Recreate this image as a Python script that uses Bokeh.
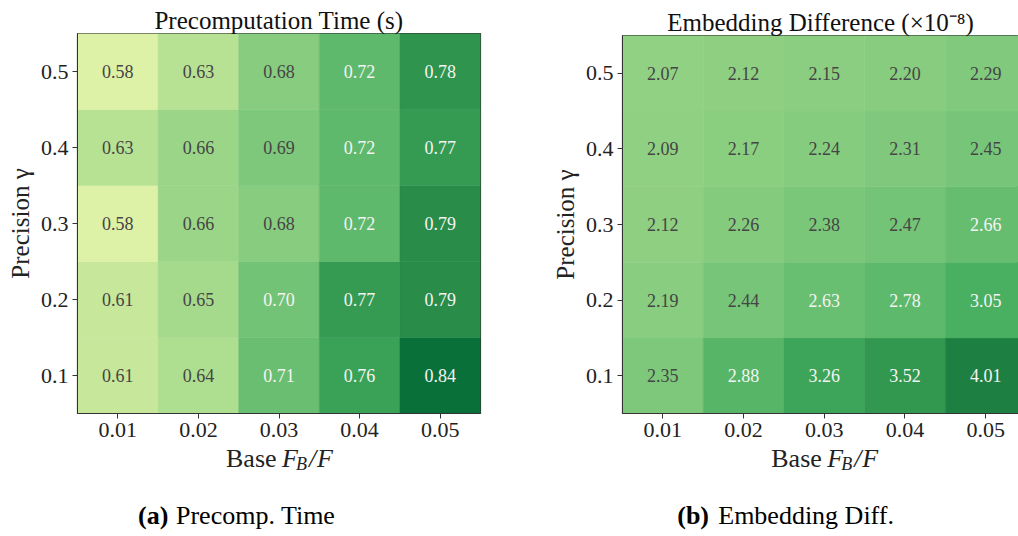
from bokeh.plotting import figure
from bokeh.models import ColumnDataSource, FixedTicker, Label, Range1d
from bokeh.layouts import row, column
from bokeh.embed import file_html
from bokeh.resources import INLINE

# ---------------- data ----------------
base_ratios = ["0.01", "0.02", "0.03", "0.04", "0.05"]      # x categories
precisions = ["0.1", "0.2", "0.3", "0.4", "0.5"]            # y categories (bottom -> top)

# Precomputation time (s), one list per precision (0.1 ... 0.5)
precomp_time = [
    [0.61, 0.64, 0.71, 0.76, 0.84],
    [0.61, 0.65, 0.70, 0.77, 0.79],
    [0.58, 0.66, 0.68, 0.72, 0.79],
    [0.63, 0.66, 0.69, 0.72, 0.77],
    [0.58, 0.63, 0.68, 0.72, 0.78],
]

# Embedding difference (x1e-8), one list per precision (0.1 ... 0.5)
embed_diff = [
    [2.35, 2.88, 3.26, 3.52, 4.01],
    [2.19, 2.44, 2.63, 2.78, 3.05],
    [2.12, 2.26, 2.38, 2.47, 2.66],
    [2.09, 2.17, 2.24, 2.31, 2.45],
    [2.07, 2.12, 2.15, 2.20, 2.29],
]

titles = ["Precomputation Time (s)", "Embedding Difference (×10⁻⁸)"]
caption_tags = ["(a)", "(b)"]
caption_texts = ["Precomp. Time", "Embedding Diff."]

YLGN = ['#ffffe5', '#f7fcb9', '#d9f0a3', '#addd8e', '#78c679',
        '#41ab5d', '#238443', '#006837', '#004529']

SERIF = "Liberation Serif"
TOTAL_H = 536
HEAT_H = 443
FRAME_BOTTOM = 413
SHIFT = 9


def _rgb(h):
    return tuple(int(h[i:i + 2], 16) for i in (1, 3, 5))


def ylgn(t):
    t = min(max(t, 0.0), 1.0)
    pos = t * (len(YLGN) - 1)
    i = min(int(pos), len(YLGN) - 2)
    f = pos - i
    a, b = _rgb(YLGN[i]), _rgb(YLGN[i + 1])
    c = [round(a[k] + (b[k] - a[k]) * f) for k in range(3)]
    return "#%02x%02x%02x" % tuple(c)


def make_panel(title, grid, vmin, vmax, white_from, width, left, right, x_end, top):
    xs, ys, cols, txt, tcol = [], [], [], [], []
    for yi, vals in enumerate(grid):
        for xi, v in enumerate(vals):
            xs.append(xi)
            ys.append(yi)
            cols.append(ylgn((v - vmin) / (vmax - vmin)))
            txt.append("%.2f" % v)
            tcol.append("#f4f4f4" if v >= white_from else "#454545")
    src = ColumnDataSource(dict(x=xs, y=ys, c=cols, t=txt, tc=tcol))

    xr = Range1d(-0.5, x_end)
    p = figure(width=width, height=HEAT_H, x_range=xr, y_range=(-0.5, len(precisions) - 0.5),
               output_backend="svg", toolbar_location=None,
               min_border_left=left, min_border_right=right,
               min_border_top=top, min_border_bottom=HEAT_H - FRAME_BOTTOM)
    p.rect(x="x", y="y", width=1, height=1, source=src, fill_color="c", line_color="c", line_width=0.5)
    p.text(x="x", y="y", text="t", source=src, text_color="tc", text_align="center",
           text_baseline="middle", text_font_size="18px", text_font=SERIF)

    p.title.text = title
    p.title.align = "center"
    p.title.text_font = SERIF
    p.title.text_font_size = "25px"
    p.title.text_font_style = "normal"
    p.title.text_color = "#111111"
    p.title.standoff = 0
    p.title.offset = 0

    p.xgrid.visible = False
    p.ygrid.visible = False
    p.outline_line_color = "#333333"
    p.outline_line_width = 1.2

    p.xaxis.ticker = FixedTicker(ticks=list(range(len(base_ratios))))
    p.xaxis.major_label_overrides = {i: s for i, s in enumerate(base_ratios)}
    p.yaxis.ticker = FixedTicker(ticks=list(range(len(precisions))))
    p.yaxis.major_label_overrides = {i: s for i, s in enumerate(precisions)}
    for ax in (p.xaxis, p.yaxis):
        ax.axis_line_color = "#333333"
        ax.major_tick_line_color = "#333333"
        ax.major_tick_out = 5
        ax.major_tick_in = 0
        ax.minor_tick_line_color = None
        ax.major_label_text_font = SERIF
        ax.major_label_text_font_size = "22px"
        ax.major_label_text_color = "#222222"
        ax.major_label_standoff = 4
    p.yaxis.axis_label = "Precision γ"
    p.yaxis.axis_label_text_font = SERIF
    p.yaxis.axis_label_text_font_size = "25px"
    p.yaxis.axis_label_text_font_style = "normal"
    p.yaxis.axis_label_text_color = "#222222"
    p.yaxis.axis_label_standoff = 4
    return p


def make_caption(heat, width, left, right, tag, text, tag_dx, text_dx):
    h = TOTAL_H - HEAT_H
    c = figure(width=width, height=h, x_range=heat.x_range, y_range=(0, 1),
               output_backend="svg", toolbar_location=None,
               min_border_left=left, min_border_right=right, min_border_top=0, min_border_bottom=0)
    c.axis.visible = False
    c.grid.visible = False
    c.outline_line_color = None
    c.background_fill_color = None
    cx = (len(base_ratios) - 1) / 2.0
    # x axis label "Base F_B/F" composed of pieces (baseline offset in px above bottom of area)
    xl_base = TOTAL_H - 467 + SHIFT
    pieces = [("Base", -53, 0, "normal", "26px"),
              ("F", 3, 0, "italic", "26px"),
              ("B", 17, -5, "italic", "18px"),
              ("/", 30, 0, "italic", "26px"),
              ("F", 38, 0, "italic", "26px")]
    for t, dx, dy, st, sz in pieces:
        c.add_layout(Label(x=cx, y=0, x_offset=dx, y_offset=xl_base + dy, text=t, text_font=SERIF,
                           text_font_style=st, text_font_size=sz, text_color="#222222",
                           text_align="left", text_baseline="alphabetic"))
    cap_base = TOTAL_H - 524 + SHIFT
    c.add_layout(Label(x=cx, y=0, x_offset=tag_dx, y_offset=cap_base, text=tag, text_font=SERIF,
                       text_font_style="bold", text_font_size="26px", text_color="#000000",
                       text_align="left", text_baseline="alphabetic"))
    c.add_layout(Label(x=cx, y=0, x_offset=text_dx, y_offset=cap_base, text=text, text_font=SERIF,
                       text_font_style="normal", text_font_size="26px", text_color="#000000",
                       text_align="left", text_baseline="alphabetic"))
    return c


left = make_panel(titles[0], precomp_time, 0.482, 0.908, 0.695,
                  509, 77, 29, len(base_ratios) - 0.5, 33)
right = make_panel(titles[1], embed_diff, -0.52, 5.36, 2.55,
                   509, 113, 0, -0.5 + 396 / 80.7, 35)
left_cap = make_caption(left, 509, 77, 29, caption_tags[0], caption_texts[0], -141, -103)
right_cap = make_caption(right, 509, 113, 0, caption_tags[1], caption_texts[1], -147, -106)

layout = row(column(left, left_cap, spacing=0), column(right, right_cap, spacing=0), spacing=0)
open("out.html", "w").write(file_html(layout, INLINE))
